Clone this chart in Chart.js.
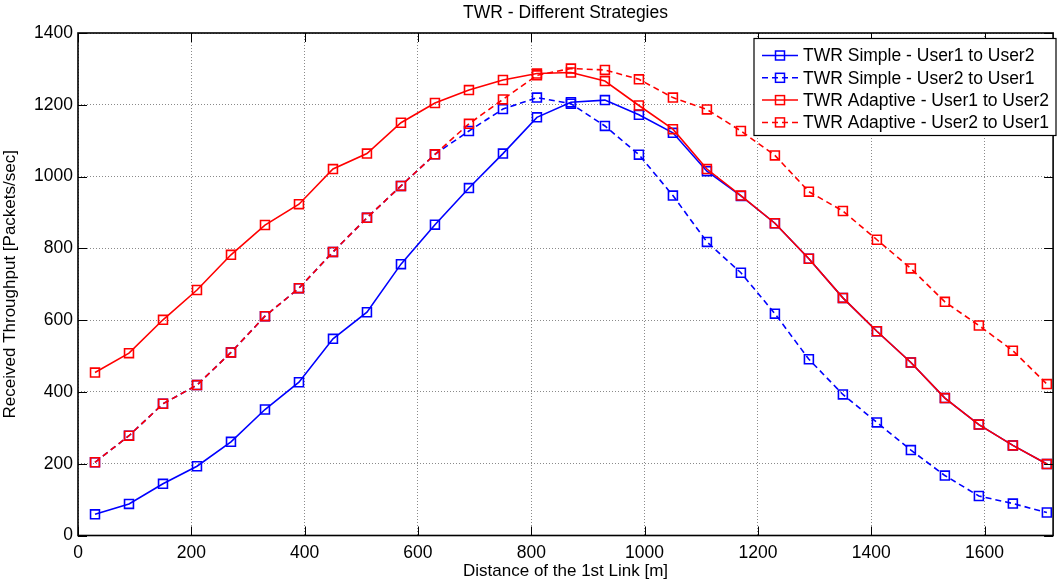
<!DOCTYPE html>
<html>
<head>
<meta charset="utf-8">
<script src="https://cdn.jsdelivr.net/npm/chart.js@4.4.1/dist/chart.umd.min.js"></script>
<style>
  html, body { margin: 0; padding: 0; background: #fff; }
  canvas { display: block; }
</style>
</head>
<body>
<canvas id="myChart" width="1061" height="585"></canvas>
<script>
const CHART_TITLE = 'TWR - Different Strategies'
const X_TITLE = 'Distance of the 1st Link [m]'
const Y_TITLE = 'Received Throughput [Packets/sec]'
const FONT = "'Liberation Sans', Arial, sans-serif"

// distance of the 1st link (m)
const distances = [30, 90, 150, 210, 270, 330, 390, 450, 510, 570, 630, 690, 750, 810, 870,
  930, 990, 1050, 1110, 1170, 1230, 1290, 1350, 1410, 1470, 1530, 1590, 1650, 1710]

// received throughput (packets/sec)
const simpleU1toU2 = [59, 88, 144, 193, 261, 351, 427, 548, 622, 756, 866, 968, 1064, 1165, 1207,
  1213, 1172, 1122, 1015, 946, 870, 771, 662, 569, 482, 383, 309, 251, 199]
const simpleU2toU1 = [204, 278, 367, 419, 510, 611, 689, 790, 885, 974, 1062, 1127, 1188, 1220, 1203,
  1141, 1061, 947, 818, 732, 618, 491, 393, 315, 238, 167, 110, 89, 64]
const adaptiveU1toU2 = [454, 508, 601, 684, 782, 865, 923, 1021, 1064, 1150, 1205, 1241, 1269, 1287, 1290,
  1266, 1198, 1132, 1021, 947, 870, 771, 662, 569, 482, 383, 309, 251, 199]
const adaptiveU2toU1 = [204, 278, 367, 419, 510, 611, 689, 790, 885, 974, 1062, 1147, 1215, 1282, 1301,
  1297, 1271, 1220, 1187, 1127, 1059, 958, 904, 824, 744, 651, 585, 515, 422]

const seriesLabels = [
  'TWR Simple - User1 to User2',
  'TWR Simple - User2 to User1',
  'TWR Adaptive - User1 to User2',
  'TWR Adaptive - User2 to User1'
]
const seriesValues = [simpleU1toU2, simpleU2toU1, adaptiveU1toU2, adaptiveU2toU1]
const seriesColors = ['#0000ff', '#0000ff', '#ff0000', '#ff0000']
const seriesDashed = [false, true, false, true]

const X_MAX = 1721
const Y_MAX = 1400

function toPoints(values) {
  return distances.map((d, i) => ({ x: d, y: values[i] }))
}

// MATLAB-like axes box, inward ticks, title and legend
const matlabFrame = {
  id: 'matlabFrame',
  afterDatasetsDraw(chart) {
    const ctx = chart.ctx
    const a = chart.chartArea
    const xs = chart.scales.x
    const ys = chart.scales.y
    ctx.save()
    ctx.strokeStyle = '#000'
    ctx.lineWidth = 1
    ctx.setLineDash([])
    ctx.beginPath()
    xs.ticks.forEach(t => {
      const px = Math.round(xs.getPixelForValue(t.value)) + 0.5
      ctx.moveTo(px, a.bottom); ctx.lineTo(px, a.bottom - 9)
      ctx.moveTo(px, a.top); ctx.lineTo(px, a.top + 9)
    })
    ys.ticks.forEach(t => {
      const py = Math.round(ys.getPixelForValue(t.value)) + 0.5
      ctx.moveTo(a.left, py); ctx.lineTo(a.left + 9, py)
      ctx.moveTo(a.right, py); ctx.lineTo(a.right - 9, py)
    })
    ctx.stroke()
    ctx.lineWidth = 1.6
    ctx.strokeRect(a.left, a.top, a.right - a.left, a.bottom - a.top)

    // title
    ctx.fillStyle = '#000'
    ctx.font = '17.5px ' + FONT
    ctx.textAlign = 'center'
    ctx.textBaseline = 'middle'
    ctx.fillText(CHART_TITLE, (a.left + a.right) / 2, 13)

    // legend
    const lx = 754, ly = 38.5, lw = 302, lh = 97
    ctx.fillStyle = '#fff'
    ctx.fillRect(lx, ly, lw, lh)
    ctx.lineWidth = 1.2
    ctx.strokeStyle = '#000'
    ctx.strokeRect(lx, ly, lw, lh)
    ctx.font = '17.5px ' + FONT
    seriesLabels.forEach((label, i) => {
      const cy = ly + 17 + i * 22.3
      ctx.strokeStyle = seriesColors[i]
      ctx.lineWidth = 1.5
      ctx.setLineDash(seriesDashed[i] ? [6, 4] : [])
      ctx.beginPath()
      ctx.moveTo(762, cy); ctx.lineTo(798, cy)
      ctx.stroke()
      ctx.setLineDash([])
      ctx.strokeRect(775.5, cy - 4.5, 9, 9)
      ctx.fillStyle = '#000'
      ctx.textAlign = 'left'
      ctx.fillText(label, 803, cy + 1)
    })
    ctx.restore()
  }
}

const ctx = document.getElementById('myChart')
new Chart(ctx, {
  type: 'line',
  data: {
    datasets: seriesValues.map((vals, i) => ({
      label: seriesLabels[i],
      data: toPoints(vals),
      borderColor: seriesColors[i],
      backgroundColor: 'rgba(0,0,0,0)',
      borderWidth: 1.6,
      borderDash: seriesDashed[i] ? [6, 4] : [],
      pointStyle: 'rect',
      pointRadius: 6.3,
      pointBorderWidth: 1.6,
      pointBorderColor: seriesColors[i],
      pointBackgroundColor: 'rgba(0,0,0,0)',
      tension: 0,
      order: 4 - i
    }))
  },
  options: {
    responsive: false,
    animation: false,
    devicePixelRatio: 1,
    layout: { padding: { top: 33, right: 1.5, left: 0, bottom: 0 } },
    plugins: {
      legend: { display: false },
      title: { display: false },
      tooltip: { enabled: false }
    },
    scales: {
      x: {
        type: 'linear',
        min: 0,
        max: X_MAX,
        afterFit: (scale) => { scale.height = 49.5 },
        ticks: {
          stepSize: 200,
          includeBounds: false,
          color: '#000',
          padding: 7,
          maxRotation: 0,
          callback: (v) => String(v),
          font: { family: FONT, size: 17.5 }
        },
        grid: { color: '#8a8a8a', lineWidth: 1, drawTicks: false },
        border: { display: false, dash: [1, 2] },
        title: {
          display: true,
          text: X_TITLE,
          color: '#000',
          font: { family: FONT, size: 17 },
          padding: { top: 0, bottom: 3 }
        }
      },
      y: {
        min: 0,
        max: Y_MAX,
        afterFit: (scale) => { scale.width = 78 },
        ticks: {
          stepSize: 200,
          color: '#000',
          padding: 5,
          callback: (v) => String(v),
          font: { family: FONT, size: 17.5 }
        },
        grid: { color: '#8a8a8a', lineWidth: 1, drawTicks: false },
        border: { display: false, dash: [1, 2] },
        title: {
          display: true,
          text: Y_TITLE,
          color: '#000',
          font: { family: FONT, size: 17 },
          padding: { top: 0, bottom: 0 }
        }
      }
    }
  },
  plugins: [matlabFrame]
})
</script>
</body>
</html>
